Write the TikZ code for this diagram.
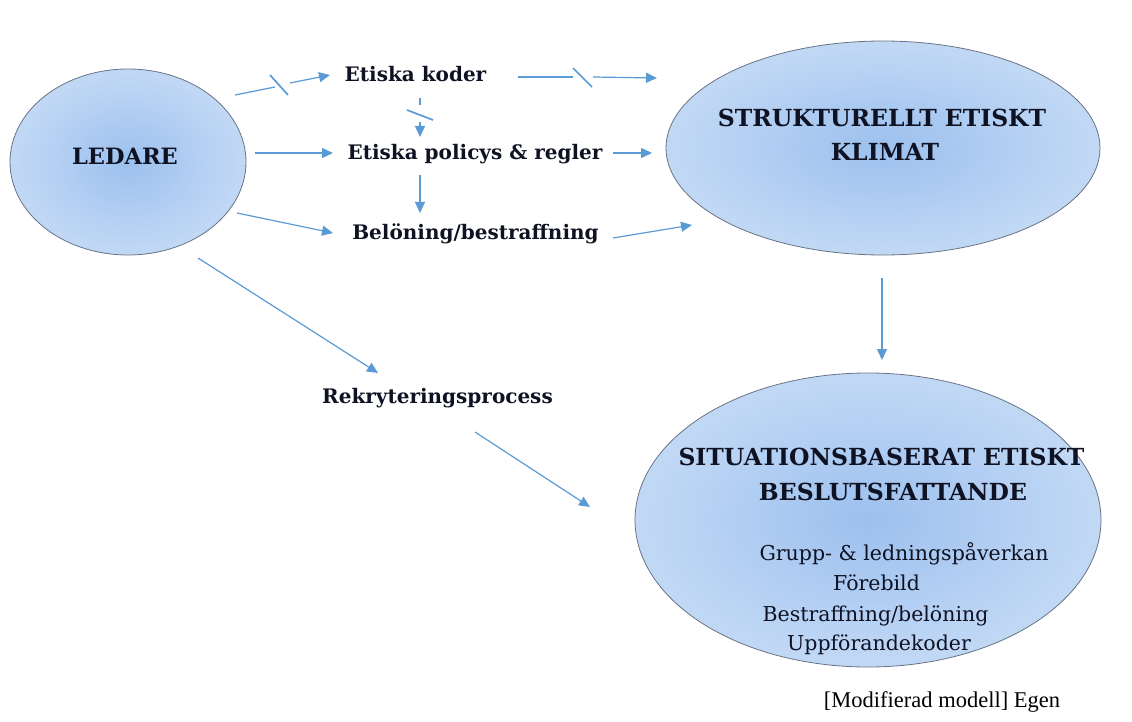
\documentclass[tikz,border=0pt]{standalone}
\usepackage{fontspec}
\setmainfont{DejaVu Serif}
\newfontfamily\notefont{Liberation Serif}
\usetikzlibrary{arrows.meta,calc,shapes.geometric}

\definecolor{linkblue}{RGB}{91,155,213}
\definecolor{ringgray}{RGB}{105,115,132}
\definecolor{shadein}{RGB}{156,192,238}
\definecolor{shademid}{RGB}{190,214,245}
\definecolor{shadeout}{RGB}{224,235,250}
\definecolor{ink}{RGB}{14,18,34}

\pgfdeclareradialshading{bubble}{\pgfpoint{0bp}{0bp}}{%
  color(0bp)=(shadein); color(22bp)=(shademid); color(50bp)=(shadeout)}

\begin{document}
\begin{tikzpicture}[x=1pt,y=1pt,
  bubble/.style={ellipse, draw=ringgray, line width=0.8pt, shading=bubble, inner sep=0pt},
  head/.style={anchor=base, inner sep=0pt, text=ink, font=\bfseries\fontsize{23.5}{28}\selectfont},
  tag/.style={anchor=base, inner sep=0pt, text=ink, font=\bfseries\fontsize{20}{24}\selectfont},
  item/.style={anchor=base, inner sep=0pt, text=ink, font=\fontsize{20.5}{24}\selectfont},
  note/.style={anchor=base, inner sep=0pt, text=black, font=\notefont\fontsize{22.5}{26}\selectfont},
  link/.style={draw=linkblue, line width=1.2pt},
  arrowed/.style={link, -{Triangle[length=11pt,width=10pt]}},
  cut/.style={draw=linkblue, line width=1.7pt}
]
\useasboundingbox (0,0) rectangle (1132,-722);

% ellipses
\node[bubble, minimum width=236pt, minimum height=186pt] (ledare) at (128,-162) {};
\node[bubble, minimum width=434pt, minimum height=214pt] (struk) at (883,-148) {};
\node[bubble, minimum width=466pt, minimum height=294pt] (sit) at (868,-520) {};

% texts inside the ellipses
\node[head, font=\bfseries\fontsize{22.5}{27}\selectfont] (ledtxt) at (125,-165) {LEDARE};
\node[head] (st1) at (882,-127) {STRUKTURELLT ETISKT};
\node[head] (st2) at (885,-161) {KLIMAT};
\node[head] (si1) at (881.5,-465) {SITUATIONSBASERAT ETISKT};
\node[head] (si2) at (893,-500) {BESLUTSFATTANDE};
\node[item] (f1) at (904,-560) {Grupp- \& ledningspåverkan};
\node[item] (f2) at (876.5,-590) {Förebild};
\node[item] (f3) at (875.5,-621) {Bestraffning/belöning};
\node[item] (f4) at (879,-650) {Uppförandekoder};

% intermediate factors
\node[tag] (ekoder) at (415.5,-82) {Etiska koder};
\node[tag] (policy) at (475,-160) {Etiska policys \& regler};
\node[tag] (belon) at (475.5,-240) {Belöning/bestraffning};
\node[tag] (rekr) at (437.5,-403) {Rekryteringsprocess};

% source note
\node[note] (src) at (942,-707) {[Modifierad modell] Egen};

% LEDARE -> Etiska koder (interrupted)
\coordinate (k1a) at (275,-87);
\coordinate (k1b) at (290,-83);
\draw[link] ($(ledare)+(107,67)$) -- (k1a);
\draw[cut] (270,-75) -- (288,-95);
\draw[arrowed] (k1b) -- ($(ekoder.base)+(-85.5,7)$);

% Etiska koder -> STRUKTURELLT (interrupted)
\coordinate (k2a) at (573,-77);
\coordinate (k2b) at (593,-77);
\draw[link] ($(ekoder.base)+(102.5,5)$) -- (k2a);
\draw[cut] (573,-68) -- (592,-87);
\draw[arrowed] (k2b) -- ($(struk)+(-226,70)$);

% Etiska koder -> Etiska policys (interrupted)
\coordinate (k3a) at (420,-105);
\coordinate (k3b) at (420,-122);
\draw[link] ($(ekoder.base)+(4.5,-16)$) -- (k3a);
\draw[cut] (407,-110) -- (433,-120);
\draw[arrowed] (k3b) -- ($(policy.base)+(-55,23)$);

% remaining connectors
\draw[arrowed] ($(ledare)+(127,9)$) -- ($(policy.base)+(-142,7)$);
\draw[arrowed] ($(policy.base)+(138,7)$) -- ($(struk)+(-231,-5)$);
\draw[arrowed] ($(policy.base)+(-55,-15)$) -- ($(belon.base)+(-55.5,27)$);
\draw[arrowed] ($(ledare)+(109,-51)$) -- ($(belon.base)+(-142.5,7)$);
\draw[arrowed] ($(belon.base)+(137.5,2)$) -- ($(struk)+(-191,-77)$);
\draw[arrowed] ($(struk)+(-1,-130)$) -- ($(sit)+(14,160)$);
\draw[arrowed] ($(ledare)+(70,-96)$) -- ($(rekr.base)+(-59.5,30)$);
\draw[arrowed] ($(rekr.base)+(37.5,-29)$) -- ($(sit)+(-278,13)$);
\end{tikzpicture}
\end{document}
